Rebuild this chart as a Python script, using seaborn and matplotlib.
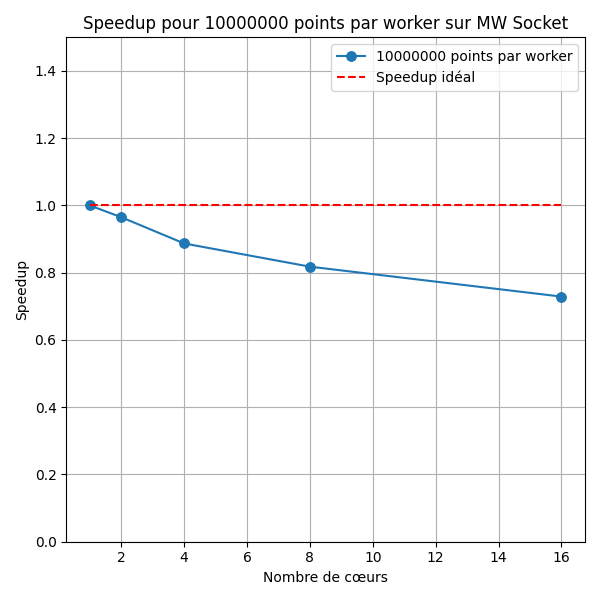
import matplotlib
matplotlib.use("Agg")
import matplotlib.pyplot as plt
import seaborn as sns

cores = [1, 2, 4, 8, 16]
speedup = [1.0, 0.965, 0.887, 0.818, 0.729]
ideal = [1.0, 1.0, 1.0, 1.0, 1.0]

fig, ax = plt.subplots(figsize=(6, 6), dpi=100)
sns.lineplot(x=cores, y=speedup, marker="o", markeredgecolor="#1f77b4", markersize=7,
             color="#1f77b4", label="10000000 points par worker", ax=ax)
sns.lineplot(x=cores, y=ideal, color="red", linestyle="--", label="Speedup idéal", ax=ax)
ax.set_ylim(0, 1.5)
ax.set_xticks([2, 4, 6, 8, 10, 12, 14, 16])
ax.grid(True)
ax.set_xlabel("Nombre de cœurs")
ax.set_ylabel("Speedup")
ax.set_title("Speedup pour 10000000 points par worker sur MW Socket")
ax.legend(loc="upper right")
fig.tight_layout()
fig.savefig("out.png")
